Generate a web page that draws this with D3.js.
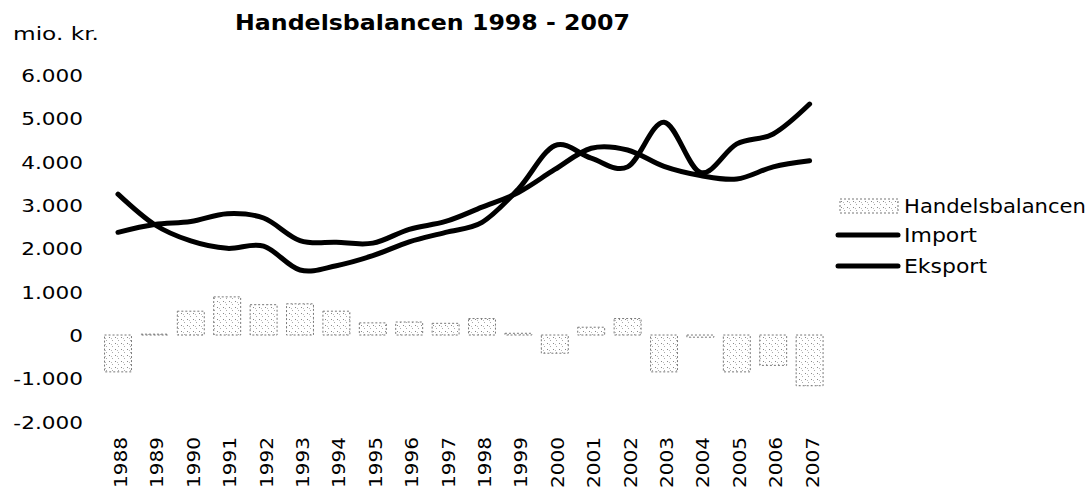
<!DOCTYPE html>
<html>
<head>
<meta charset="utf-8">
<script src="https://cdn.jsdelivr.net/npm/d3@7"></script>
<style>
  body { margin: 0; background: #fff; }
  text { font-family: "DejaVu Sans", Verdana, sans-serif; fill: #000; }
</style>
</head>
<body>
<div id="chart"></div>
<script>
// data, mio. kr.
var years = [1988, 1989, 1990, 1991, 1992, 1993, 1994, 1995, 1996, 1997,
             1998, 1999, 2000, 2001, 2002, 2003, 2004, 2005, 2006, 2007]
var handelsbalancen = [-850, 20, 550, 880, 700, 720, 550, 280, 300, 270,
                       380, 40, -420, 180, 380, -850, -50, -850, -700, -1170]
var importValues = [3250, 2550, 2170, 2000, 2050, 1500, 1600, 1830, 2150, 2370,
                    2600, 3370, 4370, 4080, 3880, 4910, 3750, 4410, 4640, 5330]
var eksportValues = [2370, 2550, 2620, 2800, 2700, 2180, 2140, 2120, 2440, 2620,
                     2950, 3290, 3820, 4310, 4270, 3890, 3680, 3600, 3880, 4020]
var yTicks = [6000, 5000, 4000, 3000, 2000, 1000, 0, -1000, -2000]
var seriesNames = ["Handelsbalancen", "Import", "Eksport"]

var width = 1091
var height = 490

var svg = d3.select("#chart")
  .append("svg")
  .attr("width", width)
  .attr("height", height)

var x = d3.scaleBand()
  .domain(years)
  .range([99.8, 827.8])
  .paddingInner(0.26)
  .paddingOuter(0.13)

var y = d3.scaleLinear()
  .domain([-2000, 6000])
  .range([421.7, 75])

var dk = d3.formatLocale({ decimal: ",", thousands: ".", grouping: [3], currency: ["", " kr."], minus: "-" })
var fmt = dk.format(",")

// stretch text to the width seen in the picture
function fit(sel, len) {
  sel.attr("textLength", len).attr("lengthAdjust", "spacingAndGlyphs")
}

// dotted fill for the bars
var defs = svg.append("defs")
var pat = defs.append("pattern")
  .attr("id", "hatch")
  .attr("patternUnits", "userSpaceOnUse")
  .attr("width", 6)
  .attr("height", 6)
pat.append("rect").attr("width", 6).attr("height", 6).attr("fill", "#fff")
pat.append("rect").attr("x", 1).attr("y", 1).attr("width", 1).attr("height", 1).attr("fill", "#888")
pat.append("rect").attr("x", 4).attr("y", 4).attr("width", 1).attr("height", 1).attr("fill", "#aaa")
pat.append("rect").attr("x", 3).attr("y", 2).attr("width", 1).attr("height", 1).attr("fill", "#bbb")

// title and unit
fit(svg.append("text")
  .attr("x", 235)
  .attr("y", 30)
  .style("font-size", "22px")
  .style("font-weight", "bold")
  .text("Handelsbalancen 1998 - 2007"), 395)

fit(svg.append("text")
  .attr("x", 13)
  .attr("y", 40)
  .style("font-size", "17px")
  .text("mio. kr."), 86)

// y tick labels
svg.selectAll(".ytick")
  .data(yTicks)
  .enter()
  .append("text")
  .attr("class", "ytick")
  .attr("x", 83)
  .attr("y", function (d) { return y(d) + 7 })
  .attr("text-anchor", "end")
  .style("font-size", "17px")
  .text(function (d) { return fmt(d) })
  .each(function (d) {
    var len = this.getComputedTextLength() * 1.27
    fit(d3.select(this), len)
  })

// x tick labels, rotated
svg.selectAll(".xtick")
  .data(years)
  .enter()
  .append("text")
  .attr("class", "xtick")
  .attr("text-anchor", "end")
  .style("font-size", "17px")
  .attr("transform", function (d) {
    return "translate(" + (x(d) + x.bandwidth() / 2 + 9) + ",437) rotate(-90)"
  })
  .text(function (d) { return d })
  .each(function () { fit(d3.select(this), 51) })

// bars
svg.selectAll(".bar")
  .data(handelsbalancen)
  .enter()
  .append("rect")
  .attr("class", "bar")
  .attr("x", function (d, i) { return x(years[i]) })
  .attr("width", x.bandwidth())
  .attr("y", function (d) { return y(Math.max(0, d)) })
  .attr("height", function (d) { return Math.abs(y(d) - y(0)) })
  .attr("fill", "url(#hatch)")
  .attr("stroke", "#777")
  .attr("stroke-width", 1)
  .attr("stroke-dasharray", "2,2")

// lines
var line = d3.line()
  .x(function (d, i) { return x(years[i]) + x.bandwidth() / 2 })
  .y(function (d) { return y(d) })
  .curve(d3.curveCatmullRom.alpha(0))

;[importValues, eksportValues].forEach(function (vals) {
  svg.append("path")
    .datum(vals)
    .attr("d", line)
    .attr("fill", "none")
    .attr("stroke", "#000")
    .attr("stroke-width", 5)
    .attr("stroke-linecap", "round")
    .attr("stroke-linejoin", "round")
})

// legend
var legendRows = [206, 235, 266]
var legendLens = [182, 73, 83]
var legend = svg.selectAll(".legend")
  .data(seriesNames)
  .enter()
  .append("g")
  .attr("class", "legend")
  .attr("transform", function (d, i) { return "translate(0," + legendRows[i] + ")" })

legend.each(function (d, i) {
  var g = d3.select(this)
  if (i === 0) {
    g.append("rect")
      .attr("x", 840).attr("y", -7)
      .attr("width", 58).attr("height", 14)
      .attr("fill", "url(#hatch)")
      .attr("stroke", "#777")
      .attr("stroke-dasharray", "2,2")
  } else {
    g.append("line")
      .attr("x1", 838).attr("x2", 898)
      .attr("stroke", "#000")
      .attr("stroke-width", 5)
      .attr("stroke-linecap", "round")
  }
  fit(g.append("text")
    .attr("x", 904)
    .attr("y", 7)
    .style("font-size", "19px")
    .text(d), legendLens[i])
})
</script>
</body>
</html>
